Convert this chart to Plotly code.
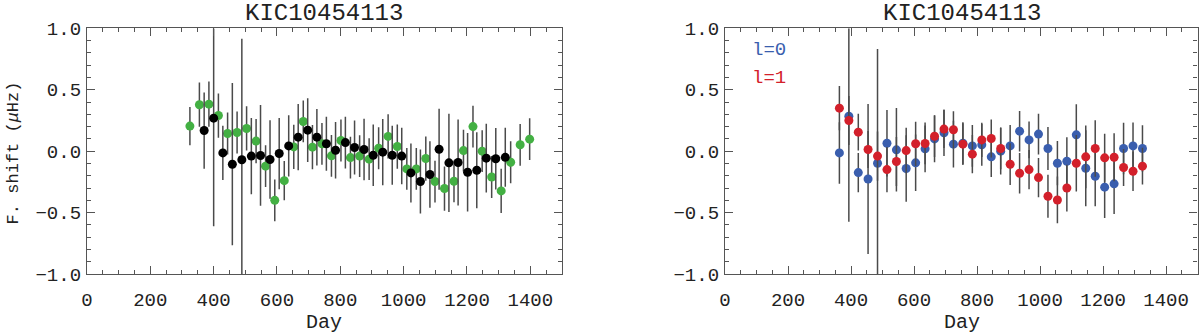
import plotly.graph_objects as go

# ---- left panel: green and black series ----
days_green = [325, 355, 385, 415, 444, 474, 504, 534, 564, 593, 623, 653, 683,
              712, 742, 772, 802, 832, 861, 891, 921, 951, 980, 1010, 1040,
              1070, 1099, 1129, 1159, 1189, 1219, 1248, 1278, 1308, 1338, 1368, 1398]
shift_green = [0.204, 0.378, 0.383, 0.29, 0.144, 0.152, 0.185, 0.082, -0.122, -0.40,
               -0.24, 0.035, 0.242, 0.033, 0.06, -0.038, 0.087, -0.052, -0.04, -0.065,
               0.024, 0.12, 0.038, -0.144, -0.144, -0.06, -0.247, -0.304, -0.245, 0.005,
               0.20, 0.0, -0.21, -0.323, -0.09, 0.052, 0.098]
err_green = [0.155, 0.18, 0.185, 0.18, 0.17, 0.17, 0.18, 0.18, 0.17, 0.17,
             0.16, 0.18, 0.17, 0.18, 0.17, 0.17, 0.17, 0.17, 0.17, 0.17,
             0.17, 0.18, 0.18, 0.17, 0.17, 0.18, 0.17, 0.18, 0.17, 0.17,
             0.17, 0.17, 0.17, 0.18, 0.17, 0.17, 0.17]

days_black = [370, 400, 429, 459, 489, 519, 548, 578, 607, 637, 667, 697, 726,
              756, 785, 816, 845, 875, 904, 934, 964, 994, 1023, 1053, 1083,
              1112, 1143, 1172, 1202, 1231, 1261, 1291, 1321]
shift_black = [0.168, 0.269, -0.014, -0.106, -0.07, -0.04, -0.035, -0.068, -0.019, 0.043,
               0.114, 0.171, 0.114, 0.06, 0.008, 0.07, 0.03, 0.014, -0.033, -0.008,
               -0.033, -0.04, -0.177, -0.247, -0.19, 0.016, -0.095, -0.092, -0.171, -0.155,
               -0.057, -0.062, -0.05]
err_black_up = [0.31, 0.73, 0.22, 0.66, 0.986, 0.31, 0.41, 0.32, 0.29, 0.25,
                0.27, 0.26, 0.23, 0.22, 0.23, 0.21, 0.22, 0.25, 0.25, 0.27,
                0.24, 0.23, 0.24, 0.26, 0.27, 0.33, 0.40, 0.35, 0.32, 0.31,
                0.28, 0.25, 0.24]
err_black_down = [0.31, 0.88, 0.22, 0.66, 0.99, 0.31, 0.41, 0.32, 0.29, 0.25,
                  0.27, 0.26, 0.23, 0.22, 0.23, 0.21, 0.22, 0.25, 0.25, 0.27,
                  0.24, 0.23, 0.24, 0.26, 0.27, 0.33, 0.40, 0.35, 0.32, 0.31,
                  0.28, 0.25, 0.24]

# ---- right panel: l=0 and l=1 ----
days_l = [363, 393, 423, 454, 484, 514, 544, 575, 605, 635, 665, 695, 725,
          755, 785, 815, 845, 875, 905, 935, 965, 995, 1025, 1055, 1085,
          1115, 1145, 1175, 1205, 1235, 1265, 1295, 1325]
shift_l0 = [-0.014, 0.285, -0.174, -0.226, -0.098, 0.065, 0.011, -0.141, -0.095, 0.019,
            0.10, 0.15, 0.057, 0.065, 0.043, 0.052, -0.046, 0.0, 0.043, 0.163,
            0.092, 0.139, 0.022, -0.098, -0.082, 0.133, -0.139, -0.204, -0.293, -0.266,
            0.022, 0.043, 0.022]
err_l0_up = [0.25, 0.715, 0.16, 0.61, 0.93, 0.27, 0.34, 0.27, 0.23, 0.19,
             0.19, 0.19, 0.19, 0.17, 0.17, 0.17, 0.165, 0.19, 0.17, 0.165,
             0.15, 0.165, 0.175, 0.18, 0.195, 0.25, 0.31, 0.245, 0.25, 0.245,
             0.21, 0.19, 0.19]
err_l0_down = [0.25, 0.86, 0.16, 0.61, 0.95, 0.27, 0.34, 0.27, 0.23, 0.19,
               0.19, 0.19, 0.19, 0.17, 0.17, 0.17, 0.165, 0.19, 0.17, 0.165,
               0.15, 0.165, 0.175, 0.18, 0.195, 0.25, 0.31, 0.245, 0.25, 0.245,
               0.21, 0.19, 0.19]
shift_l1 = [0.35, 0.25, 0.155, 0.014, -0.04, -0.15, -0.084, 0.005, 0.06, 0.063,
            0.122, 0.18, 0.174, 0.057, -0.024, 0.092, 0.103, 0.022, -0.106, -0.18,
            -0.15, -0.215, -0.367, -0.397, -0.30, -0.098, -0.046, 0.022, -0.054, -0.049,
            -0.133, -0.163, -0.122]
err_l1 = [0.18, 0.2, 0.15, 0.15, 0.2, 0.185, 0.2, 0.185, 0.18, 0.17,
          0.17, 0.155, 0.15, 0.17, 0.155, 0.14, 0.155, 0.17, 0.17, 0.165,
          0.16, 0.16, 0.175, 0.19, 0.19, 0.23, 0.255, 0.23, 0.195, 0.195,
          0.15, 0.16, 0.15]

star = "KIC10454113"
FONT = "Liberation Mono"
bar_col = "#4a4a4a"


def pts(x, y, up, down, color, xa, ya):
    return go.Scatter(
        x=x, y=y, mode="markers", xaxis=xa, yaxis=ya, cliponaxis=False,
        marker=dict(size=9, color=color),
        error_y=dict(type="data", symmetric=False, array=up, arrayminus=down,
                     color=bar_col, thickness=1.5, width=0),
        showlegend=False,
    )


fig = go.Figure()
fig.add_trace(pts(days_green, shift_green, err_green, err_green, "#43b043", "x", "y"))
fig.add_trace(pts(days_black, shift_black, err_black_up, err_black_down, "#000000", "x", "y"))
fig.add_trace(pts(days_l, shift_l0, err_l0_up, err_l0_down, "#3a5eae", "x2", "y2"))
fig.add_trace(pts(days_l, shift_l1, err_l1, err_l1, "#d3202b", "x2", "y2"))

ax_common = dict(
    showline=True, linecolor="#555", linewidth=1.3, mirror="ticks",
    ticks="inside", ticklen=8, tickwidth=1.2, tickcolor="#555",
    showgrid=False, zeroline=False, automargin=False,
    tickfont=dict(family=FONT, size=19, color="#222"),
)
xax = dict(ax_common, range=[0, 1500], tickmode="linear", tick0=0, dtick=200,
           ticklabelstandoff=8,
           minor=dict(ticks="inside", ticklen=4, tickcolor="#555", dtick=50, tick0=0))
yax = dict(ax_common, range=[-1, 1], tickmode="linear", tick0=-1, dtick=0.5,
           tickformat=".1f", ticklabelstandoff=1,
           minor=dict(ticks="inside", ticklen=4, tickcolor="#555", dtick=0.1, tick0=-1))

fig.update_layout(
    width=1200, height=333,
    margin=dict(l=0, r=0, t=0, b=0, autoexpand=False),
    paper_bgcolor="white", plot_bgcolor="white",
    xaxis=dict(xax, domain=[0.0725, 0.4683], anchor="y"),
    yaxis=dict(yax, domain=[0.177, 0.915], anchor="x"),
    xaxis2=dict(xax, domain=[0.6042, 0.998], anchor="y2"),
    yaxis2=dict(yax, domain=[0.177, 0.915], anchor="x2"),
)


def note(text, x, y, size, color="#222", xanchor="center", angle=0):
    return dict(text=text, x=x, y=y, xref="paper", yref="paper", showarrow=False,
                xanchor=xanchor, yanchor="middle", textangle=angle,
                font=dict(family=FONT, size=size, color=color))


ann = []
for cx in [0.2704, 0.8013]:
    ann.append(note(star, cx, 0.958, 24))
    ann.append(note("Day", cx, 0.033, 20))
ann.append(note("F. shift (<i>μ</i>Hz)", 0.011, 0.54, 17, angle=-90))
ann.append(note("l=0", 0.625, 0.85, 19, color="#3a5eae", xanchor="left"))
ann.append(note("l=1", 0.625, 0.766, 19, color="#d3202b", xanchor="left"))
fig.update_layout(annotations=ann)

fig.write_html("out.html", config={"displayModeBar": False},
               post_script="document.body.style.margin='0';")
